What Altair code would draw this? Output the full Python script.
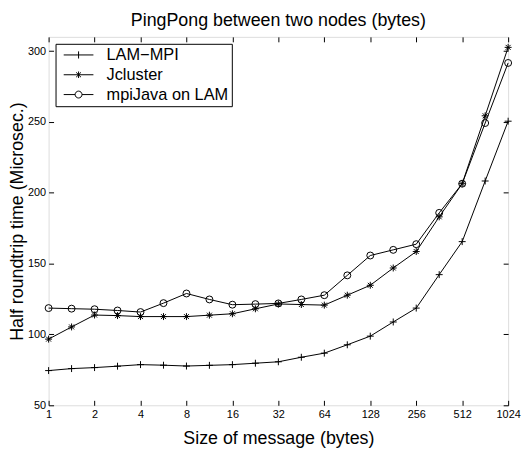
import altair as alt
import pandas as pd

# message sizes (bytes), half-power-of-two steps
sizes = [1, 1.414, 2, 2.828, 4, 5.657, 8, 11.31, 16, 22.63, 32, 45.25, 64,
         90.51, 128, 181.0, 256, 362.0, 512, 724.1, 1024]

series_names = ["LAM\u2212MPI", "Jcluster", "mpiJava on LAM"]

lam_mpi = [74.5, 75.9, 76.6, 77.6, 78.7, 78.3, 77.7, 78.2, 78.7, 79.7, 80.7,
           83.9, 86.8, 92.7, 98.8, 108.8, 118.6, 142.2, 165.5, 208.3, 250.5]
jcluster = [96.7, 105.3, 113.7, 113.3, 112.6, 112.6, 112.6, 113.6, 114.6, 118.1,
            121.5, 121.1, 120.7, 127.7, 134.7, 146.9, 158.5, 183.0, 206.4, 254.3, 302.6]
mpijava = [118.6, 118.2, 117.8, 116.9, 115.8, 122.1, 128.9, 124.7, 121.0, 121.4,
           121.9, 124.7, 127.7, 141.7, 155.7, 159.7, 163.7, 185.8, 206.4, 249.2, 291.6]

x_ticks = [1, 2, 4, 8, 16, 32, 64, 128, 256, 512, 1024]
y_ticks = [50, 100, 150, 200, 250, 300]

rows = []
for name, vals in zip(series_names, [lam_mpi, jcluster, mpijava]):
    for s, v in zip(sizes, vals):
        rows.append({"size": s, "time": v, "series": name})
df = pd.DataFrame(rows)

FONT = "Liberation Sans"

xscale = alt.Scale(type="log", base=2, domain=[1, 1024], nice=False)
yscale = alt.Scale(domain=[50, 310], nice=False, zero=False)

marker_paths = [
    "M-1,0H1M0,-1V1",
    "M-1,0H1M0,-1V1M-0.71,-0.71L0.71,0.71M-0.71,0.71L0.71,-0.71",
    "circle",
]
legend_paths = [
    "M-2.5,0H2.5M0,-0.6V0.6",
    "M-2.5,0H2.5M0,-0.55V0.55M-0.4,-0.4L0.4,0.4M-0.4,0.4L0.4,-0.4",
    "M-2.5,0H-0.58M0.58,0H2.5M-0.58,0A0.58,0.58 0 1,0 0.58,0A0.58,0.58 0 1,0 -0.58,0",
]

bottom_axis = alt.Axis(values=x_ticks, format="d", orient="bottom", offset=-5,
                       tickSize=5, domain=False, grid=False, labelPadding=3,
                       labelFontSize=11, labelFont=FONT, labelColor="black",
                       tickColor="black", labelFlush=False, labelOverlap=False,
                       labelBound=False,
                       title="Size of message (bytes)", titleFontSize=18,
                       titleFont=FONT, titleFontWeight="normal", titleColor="black",
                       titlePadding=11)
left_axis = alt.Axis(values=y_ticks, orient="left", offset=-5, tickSize=5,
                     domain=False, grid=False, labelPadding=3, labelFontSize=11,
                     labelFont=FONT, labelColor="black", tickColor="black",
                     labelFlush=False, labelOverlap=False, labelBound=False,
                     title="Half roundtrip time (Microsec.)", titleFontSize=18,
                     titleFont=FONT, titleFontWeight="normal", titleColor="black",
                     titlePadding=1)
top_axis = alt.Axis(values=x_ticks, orient="top", offset=-5, tickSize=5,
                    domain=False, grid=False, labels=False, title=None,
                    tickColor="black")
right_axis = alt.Axis(values=y_ticks, orient="right", offset=-5, tickSize=5,
                      domain=False, grid=False, labels=False, title=None,
                      tickColor="black")

base = alt.Chart(df)

lines = base.mark_line(color="black", strokeWidth=1).encode(
    x=alt.X("size:Q", scale=xscale, axis=bottom_axis),
    y=alt.Y("time:Q", scale=yscale, axis=left_axis),
    detail="series:N",
)

points = base.mark_point(color="black", filled=False, strokeWidth=1, size=49,
                         opacity=1).encode(
    x=alt.X("size:Q", scale=xscale, axis=top_axis),
    y=alt.Y("time:Q", scale=yscale, axis=right_axis),
    shape=alt.Shape("series:N",
                    scale=alt.Scale(domain=series_names, range=marker_paths),
                    legend=None),
)

legend_layer = base.transform_filter("false").mark_point(
    color="black", filled=False, strokeWidth=1, size=144, opacity=1
).encode(
    shape=alt.Shape(
        "series:N",
        scale=alt.Scale(domain=series_names, range=legend_paths),
        legend=alt.Legend(
            title=None, orient="top-left", offset=7, padding=3,
            strokeColor="black", fillColor="white",
            symbolSize=144, symbolStrokeWidth=1, symbolStrokeColor="black",
            symbolFillColor="transparent", symbolOffset=12,
            labelOffset=20, labelFontSize=16.5, labelFont=FONT,
            labelColor="black", rowPadding=3,
            labelExpr="datum.value == 'mpiJava on LAM' ? datum.label : '\u00a0\u00a0\u00a0' + datum.label",
        ),
    ),
)

chart = alt.layer(lines, points, legend_layer).resolve_axis(
    x="independent", y="independent"
).resolve_scale(shape="independent").properties(
    width=464, height=372,
    title=alt.TitleParams("PingPong between two nodes (bytes)", fontSize=18,
                          font=FONT, fontWeight="normal", color="black",
                          anchor="middle", offset=6),
    autosize=alt.AutoSizeParams(type="none"),
    padding={"left": 41, "top": 27, "right": 14, "bottom": 45},
).configure_view(stroke="black", strokeWidth=1.2).configure_legend(
    strokeWidth=1.8
).configure(background="white")

chart.save("out.html", embed_options={"renderer": "svg", "actions": False})
